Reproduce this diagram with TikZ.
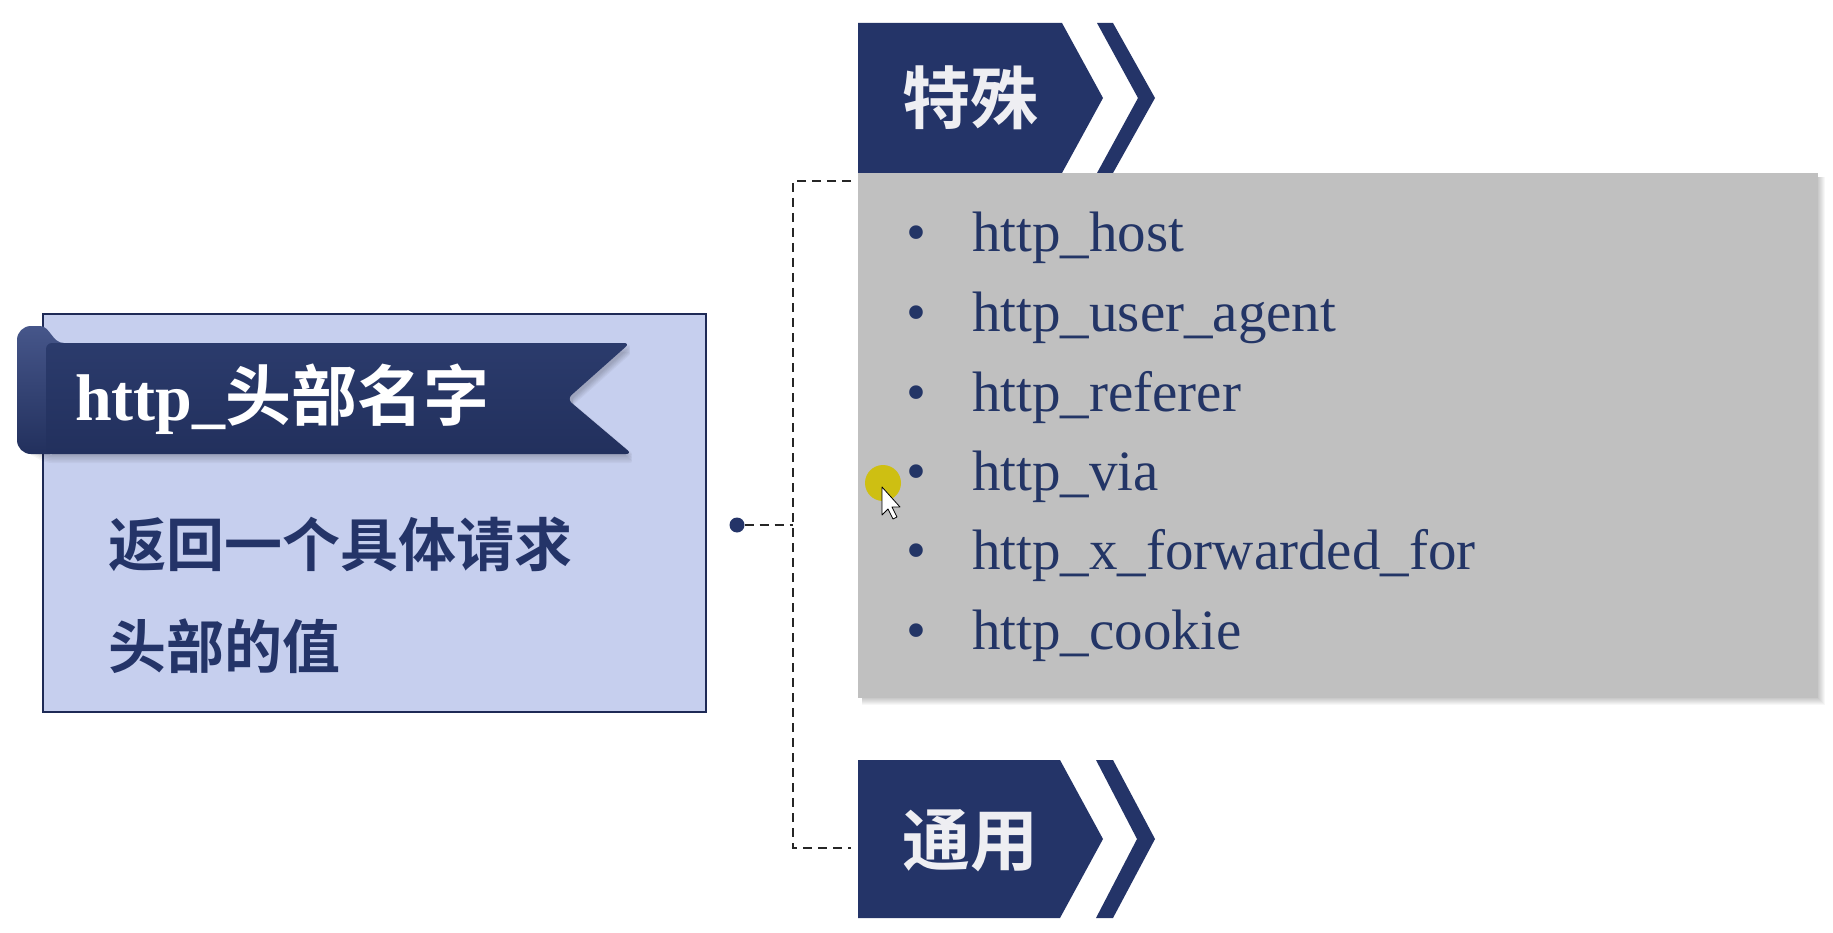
\documentclass[tikz,border=0pt]{standalone}
\usepackage{fontspec}
\setmainfont{Liberation Serif}
\newfontfamily\cjkb{Noto Sans CJK SC Bold}
\definecolor{navy}{HTML}{243468}
\definecolor{boxfill}{HTML}{C6CFEE}
\definecolor{boxline}{HTML}{1E2A56}
\definecolor{listgray}{HTML}{C0C0C0}
\definecolor{listtext}{HTML}{233566}
\definecolor{tagtext}{HTML}{EEEEF2}
\definecolor{cursory}{HTML}{D0BF00}
\definecolor{ribtop}{HTML}{2B3B6C}
\definecolor{ribmid}{HTML}{3A4A7B}
\definecolor{ribbot}{HTML}{22305D}
\definecolor{curlhi}{HTML}{46568A}
\begin{document}
\begin{tikzpicture}[x=1pt,y=-1pt,
  dl/.style={draw=black!85, line width=2.4pt, dash pattern=on 9pt off 6pt},
  itemtext/.style={anchor=base west, inner sep=0pt, text=listtext, font=\fontsize{57}{60}\selectfont},
  bul/.style={anchor=base, inner sep=0pt, text=listtext, font=\fontsize{57}{60}\selectfont},
  bodytext/.style={anchor=base west, inner sep=0pt, text=navy, font=\cjkb\fontsize{58}{60}\selectfont},
  tagtxt/.style={inner sep=0pt, text=tagtext, font=\cjkb\fontsize{68}{70}\selectfont},
  tagshape/.style={fill=navy, draw=none}
]
\useasboundingbox (0,0) rectangle (1833,933);
\fill[white] (0,0) rectangle (1833,933);

% left box
\node[draw=boxline, line width=2pt, fill=boxfill, minimum width=663pt, minimum height=398pt, inner sep=0pt] (lbox) at (374.5,513) {};

% ribbon shadow
\foreach \i in {1,...,6}{
  \fill[black, opacity=.035, rounded corners=6pt, shift={(3,{1.5*\i})}] (17,440) -- (43,454) -- (632,454) -- (567,399) -- (630,343) -- (43,343) -- (17,360) -- cycle;
}
% ribbon curl
\shade[top color=curlhi, bottom color=ribbot]
  (64,343) .. controls (52,343) and (50,326) .. (40,326)
  [rounded corners=14pt] -- (17,326) -- (17,454) -- (64,454) [sharp corners] -- cycle;
% ribbon band
\shade[top color=ribtop, middle color=ribmid, bottom color=ribbot, rounded corners=6pt] (46,343) -- (630,343) -- (567,399) -- (632,454) -- (46,454) -- cycle;
\node[anchor=base west, inner sep=0pt, text=white] (rtitle) at (75,420) {{\bfseries\fontsize{66}{70}\selectfont http\_}{\cjkb\fontsize{66}{70}\selectfont 头部名字}};

% body text
\node[bodytext] (d1) at (108,566) {返回一个具体请求};
\node[bodytext] (d2) at (108,668) {头部的值};

% gray list box with shadow
\foreach \i in {1,...,7}{
  \fill[black, opacity=.03] (862,177) rectangle ({1818+\i},{698+\i});
}
\node[fill=listgray, minimum width=960pt, minimum height=525pt, inner sep=0pt] (list) at (1338,435.5) {};

% list items
\node[bul] (b1) at (916,252) {•};
\node[bul] (b2) at (916,331) {•};
\node[bul] (b3) at (916,411) {•};
\node[bul] (b4) at (916,490) {•};
\node[bul] (b5) at (916,569) {•};
\node[bul] (b6) at (916,649) {•};
\node[itemtext] (i1) at (972,252) {http\_host};
\node[itemtext] (i2) at (972,331) {http\_user\_agent};
\node[itemtext] (i3) at (972,411) {http\_referer};
\node[itemtext] (i4) at (972,490) {http\_via};
\node[itemtext] (i5) at (972,569) {http\_x\_forwarded\_for};
\node[itemtext] (i6) at (972,649) {http\_cookie};

% top tag
\fill[tagshape] (858,23) -- (1062,23) -- (1103,98) -- (1062,173) -- (858,173) -- cycle;
\fill[tagshape] (1097,23) -- (1113,23) -- (1155,98) -- (1113,173) -- (1097,173) -- (1138,98) -- cycle;
\node[tagtxt] (tagA) at (970,98) {特殊};

% bottom tag
\fill[tagshape] (858,760) -- (1060,760) -- (1103,839) -- (1060,918) -- (858,918) -- cycle;
\fill[tagshape] (1096,760) -- (1113,760) -- (1155,839) -- (1113,918) -- (1096,918) -- (1137,839) -- cycle;
\node[tagtxt] (tagB) at (970,841) {通用};

% connectors
\node[circle, fill=navy, inner sep=0pt, minimum size=15pt] (dot) at (737,525) {};
\coordinate (jx) at (793,525);
\coordinate (tend) at (851,181);
\coordinate (bend) at (851,848);
\draw[dl] (dot) -- (jx);
\draw[dl] (tend) -| (jx) |- (bend);

% mouse cursor
\fill[cursory, opacity=.9] (883,483) circle (18pt);
\filldraw[fill=white, draw=black, line width=.8pt, line join=round] (882,487) -- (882,515) -- (888,509) -- (893,519) -- (897,517) -- (892,507) -- (900,507) -- cycle;
\end{tikzpicture}
\end{document}
